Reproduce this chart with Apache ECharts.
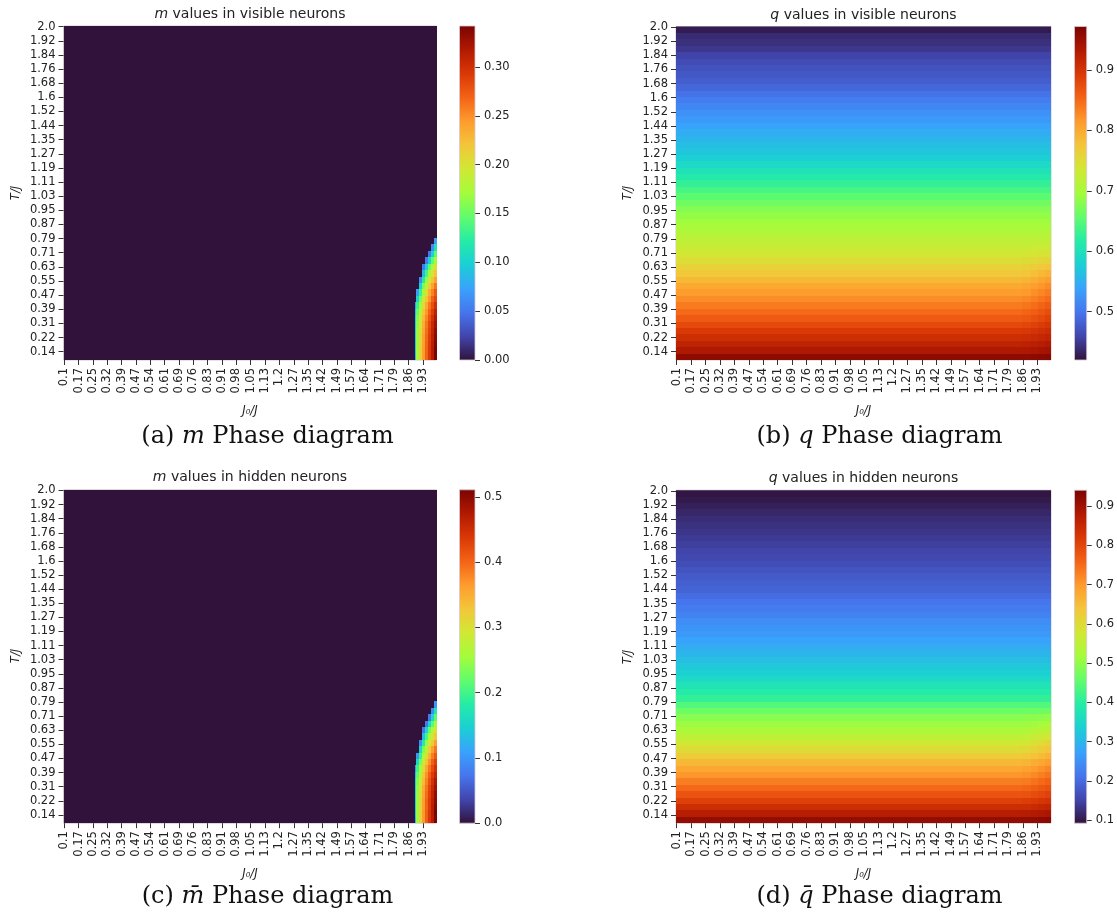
<!DOCTYPE html>
<html><head><meta charset="utf-8">
<script src="https://cdn.jsdelivr.net/npm/echarts@6/dist/echarts.min.js"></script>
<style>html,body{margin:0;padding:0;background:#fff}#c{width:1117px;height:918px}</style>
</head><body><div id="c"></div>
<script>
// ---------------- data ----------------
const xTickLabels = ['0.1','0.17','0.25','0.32','0.39','0.47','0.54','0.61','0.69','0.76','0.83','0.91','0.98','1.05','1.13','1.2','1.27','1.35','1.42','1.49','1.57','1.64','1.71','1.79','1.86','1.93'];
const yTickLabels = ['2.0','1.92','1.84','1.76','1.68','1.6','1.52','1.44','1.35','1.27','1.19','1.11','1.03','0.95','0.87','0.79','0.71','0.63','0.55','0.47','0.39','0.31','0.22','0.14'];
const gridCells = 260;          // cells per axis of the seaborn heatmap
const xTickStep = 10;           // a label every 10 cells
const yTickStep = 11;           // a label every 11 cells

// q profiles: one value per block of 5 rows (top row = T/J 2.0)
const qVisibleProfile = [0.428,0.439,0.443,0.449,0.458,0.465,0.471,0.475,0.480,0.487,
 0.496,0.506,0.515,0.523,0.531,0.539,0.547,0.555,0.563,0.571,
 0.578,0.591,0.602,0.613,0.627,0.640,0.653,0.665,0.677,0.686,
 0.694,0.703,0.711,0.720,0.729,0.737,0.748,0.761,0.773,0.787,
 0.801,0.812,0.824,0.837,0.849,0.862,0.877,0.892,0.905,0.920,
 0.933,0.958];
const qHiddenProfile = [0.096,0.102,0.109,0.117,0.124,0.129,0.134,0.140,0.145,0.151,
 0.158,0.164,0.171,0.179,0.187,0.192,0.202,0.213,0.221,0.232,
 0.245,0.255,0.262,0.275,0.289,0.300,0.313,0.325,0.338,0.355,
 0.376,0.393,0.410,0.440,0.466,0.491,0.508,0.529,0.550,0.576,
 0.601,0.627,0.657,0.682,0.703,0.729,0.754,0.780,0.809,0.839,
 0.873,0.915];
// bottom-right corner of q maps: row blocks 34..51, four column blocks
const qCornerFirstBlock = 34;
const qCornerCols = [[240,245],[246,250],[251,255],[256,259]];
const qVisibleCorner = [
 [0.729,0.738,0.749,0.763,0.776,0.791,0.805,0.816,0.828,0.841,0.853,0.865,0.880,0.894,0.907,0.922,0.934,0.959],
 [0.730,0.739,0.752,0.767,0.781,0.797,0.811,0.822,0.834,0.847,0.859,0.871,0.885,0.899,0.911,0.925,0.937,0.960],
 [0.730,0.741,0.756,0.772,0.787,0.804,0.818,0.829,0.841,0.854,0.866,0.877,0.890,0.903,0.915,0.928,0.940,0.961],
 [0.731,0.743,0.759,0.777,0.793,0.811,0.825,0.836,0.848,0.861,0.873,0.884,0.896,0.908,0.919,0.932,0.943,0.963]];
const qHiddenCorner = [
 [0.466,0.492,0.510,0.532,0.554,0.581,0.606,0.632,0.662,0.687,0.708,0.733,0.758,0.783,0.812,0.841,0.875,0.916],
 [0.466,0.494,0.514,0.538,0.562,0.591,0.616,0.642,0.672,0.697,0.718,0.742,0.766,0.790,0.818,0.846,0.879,0.918],
 [0.467,0.496,0.518,0.545,0.571,0.601,0.626,0.652,0.682,0.707,0.728,0.751,0.774,0.797,0.824,0.851,0.883,0.920],
 [0.468,0.499,0.523,0.552,0.580,0.612,0.637,0.663,0.693,0.718,0.739,0.761,0.783,0.805,0.831,0.857,0.888,0.923]];

// m maps: zero everywhere except the ferromagnetic crescent (rows 160..259 in blocks of 5)
const mFirstRow = 160;
const mCols = [[245,245],[246,247],[248,249],[250,251],[252,253],[254,255],[256,257],[258,259]];
const mVisible = [
 [0,0,0,0,0,0,0,0],
 [0,0,0,0,0,0,0,0.07],
 [0,0,0,0,0,0,0.06,0.11],
 [0,0,0,0,0,0.05,0.10,0.145],
 [0,0,0,0,0.05,0.10,0.145,0.17],
 [0,0,0,0.05,0.10,0.145,0.18,0.20],
 [0,0,0,0.085,0.135,0.17,0.20,0.22],
 [0,0,0.06,0.12,0.165,0.195,0.22,0.24],
 [0,0,0.10,0.155,0.19,0.215,0.24,0.26],
 [0,0.07,0.13,0.17,0.205,0.235,0.255,0.275],
 [0,0.10,0.155,0.19,0.22,0.245,0.27,0.285],
 [0.07,0.13,0.17,0.205,0.235,0.26,0.28,0.30],
 [0.09,0.145,0.185,0.22,0.245,0.27,0.29,0.31],
 [0.10,0.155,0.195,0.226,0.253,0.277,0.298,0.318],
 [0.10,0.16,0.20,0.233,0.26,0.284,0.305,0.325],
 [0.10,0.165,0.205,0.236,0.263,0.287,0.308,0.332],
 [0.10,0.165,0.208,0.24,0.266,0.29,0.311,0.335],
 [0.10,0.167,0.21,0.24,0.268,0.292,0.314,0.338],
 [0.095,0.168,0.211,0.242,0.269,0.293,0.315,0.342],
 [0.085,0.168,0.212,0.243,0.27,0.294,0.315,0.342]];
const mHidden = [
 [0,0,0,0,0,0,0,0],
 [0,0,0,0,0,0,0,0.10],
 [0,0,0,0,0,0,0.09,0.17],
 [0,0,0,0,0,0.075,0.155,0.215],
 [0,0,0,0,0.075,0.155,0.215,0.255],
 [0,0,0,0.075,0.155,0.22,0.265,0.295],
 [0,0,0,0.13,0.205,0.255,0.295,0.325],
 [0,0,0.09,0.18,0.245,0.29,0.325,0.36],
 [0,0,0.155,0.23,0.28,0.32,0.36,0.39],
 [0,0.10,0.195,0.255,0.305,0.345,0.385,0.41],
 [0,0.155,0.23,0.285,0.33,0.37,0.405,0.43],
 [0.10,0.195,0.255,0.305,0.355,0.39,0.42,0.445],
 [0.135,0.215,0.275,0.325,0.37,0.405,0.435,0.46],
 [0.155,0.23,0.29,0.335,0.38,0.415,0.445,0.475],
 [0.155,0.24,0.30,0.35,0.39,0.425,0.455,0.485],
 [0.155,0.245,0.305,0.355,0.395,0.43,0.46,0.495],
 [0.155,0.245,0.31,0.36,0.40,0.435,0.465,0.50],
 [0.155,0.25,0.31,0.36,0.40,0.435,0.47,0.505],
 [0.145,0.25,0.315,0.365,0.405,0.44,0.47,0.511],
 [0.13,0.25,0.315,0.365,0.405,0.44,0.47,0.511]];

const valueRanges = [[0,0.342],[0.420,0.972],[0,0.511],[0.092,0.941]];
const colorbarTicks = [[0,0.05,0.10,0.15,0.20,0.25,0.30],[0.5,0.6,0.7,0.8,0.9],[0,0.1,0.2,0.3,0.4,0.5],[0.1,0.2,0.3,0.4,0.5,0.6,0.7,0.8,0.9]];
const colorbarDecimals = [2,1,1,1];
const titles = ['{i|m} values in visible neurons','{i|q} values in visible neurons','{i|m} values in hidden neurons','{i|q} values in hidden neurons'];
const captions = ['(a) {i|m} Phase diagram','(b) {i|q} Phase diagram','(c) {i|m\u0304} Phase diagram','(d) {i|q\u0304} Phase diagram'];

// ---------------- styling / layout ----------------
const turbo = ["#30123b","#4145ab","#4675ed","#39a2fc","#1bcfd4","#24eca6","#61fc6c","#a4fc3b","#d1e834","#f3c63a","#fe9b2d","#f36315","#d93806","#b11901","#7a0402"];
const layout = [
 {plot:{left:63.5,top:26,width:373,height:334}, cb:{left:459.5,top:26,width:15.5,height:334}, title:[250,14.5], ylab:[16,193], xlab:[250,411], cap:[267.5,437]},
 {plot:{left:676,top:26.5,width:375,height:333.5}, cb:{left:1074.5,top:26.5,width:15.3,height:333.5}, title:[863.5,15], ylab:[628,193], xlab:[863.5,411], cap:[879.5,437]},
 {plot:{left:63.5,top:489.8,width:373,height:333.4}, cb:{left:459.5,top:489.8,width:15.5,height:333.4}, title:[250,477], ylab:[16,656], xlab:[250,874], cap:[267.5,897]},
 {plot:{left:676,top:490.2,width:375,height:333}, cb:{left:1074.5,top:490.2,width:15.3,height:333}, title:[863.5,478], ylab:[628,657], xlab:[863.5,874], cap:[879.5,897]}
];
const FONT = 'DejaVu Sans';
const TXT = '#222';

// ---------------- build cell tables ----------------
function qCells(profile, corner){
  const out = [];
  profile.forEach((q,b)=>out.push([0,gridCells-1,5*b,5*b+4,q]));
  corner.forEach((col,ci)=>col.forEach((q,k)=>{
    const b = qCornerFirstBlock + k;
    out.push([qCornerCols[ci][0], qCornerCols[ci][1], 5*b, 5*b+4, q]);
  }));
  return out;
}
function mCells(table){
  const out = [[0,gridCells-1,0,gridCells-1,0]];
  table.forEach((row,ri)=>row.forEach((v,ci)=>{
    if (v > 0) out.push([mCols[ci][0], mCols[ci][1], mFirstRow+5*ri, mFirstRow+5*ri+4, v]);
  }));
  return out;
}
const cellTables = [mCells(mVisible), qCells(qVisibleProfile,qVisibleCorner), mCells(mHidden), qCells(qHiddenProfile,qHiddenCorner)];

const cats = Array.from({length:gridCells},(_,i)=>String(i));

function cellRender(params, api){
  const a = api.coord([api.value(0), api.value(2)]);
  const b = api.coord([api.value(1), api.value(3)]);
  const s = api.size([1,1]);
  const x0 = Math.round(Math.min(a[0],b[0]) - s[0]/2), y0 = Math.round(Math.min(a[1],b[1]) - s[1]/2);
  const x1 = Math.round(Math.max(a[0],b[0]) + s[0]/2), y1 = Math.round(Math.max(a[1],b[1]) + s[1]/2);
  const c = api.visual('color');
  return {type:'rect', shape:{x:x0,y:y0,width:x1-x0,height:y1-y0}, style:{fill:c}};
}
function cbRender(params, api){
  const top = api.coord([0, api.value(2)]);
  const bot = api.coord([0, api.value(1)]);
  const w = api.size([1,0])[0];
  const stops = turbo.map((c,i)=>({offset:i/(turbo.length-1), color:c})).reverse().map((s,i)=>({offset:i/(turbo.length-1), color:s.color}));
  return {type:'rect', shape:{x:top[0]-w/2, y:top[1], width:w, height:bot[1]-top[1]},
    style:{fill:new echarts.graphic.LinearGradient(0,0,0,1,stops), stroke:'#d6c9d2', lineWidth:0.8}};
}

const grid=[], xAxis=[], yAxis=[], series=[], visualMap=[], graphic=[];
layout.forEach((L,i)=>{
  grid.push(Object.assign({show:true, borderColor:'#d4c6cf', borderWidth:1, backgroundColor:'transparent', containLabel:false}, L.plot));
  xAxis.push({gridIndex:i, type:'category', data:cats, boundaryGap:true,
    axisLine:{show:false}, splitLine:{show:false},
    axisTick:{show:true, interval:xTickStep-1, alignWithLabel:true, length:5, lineStyle:{color:'#333',width:1}},
    axisLabel:{interval:xTickStep-1, rotate:90, fontSize:11.5, fontFamily:FONT, color:TXT, margin:8,
      formatter:(v,idx)=> idx%xTickStep===0 ? xTickLabels[idx/xTickStep] : ''}});
  yAxis.push({gridIndex:i, type:'category', data:cats, inverse:true, boundaryGap:true,
    axisLine:{show:false}, splitLine:{show:false},
    axisTick:{show:true, interval:yTickStep-1, alignWithLabel:true, length:5, lineStyle:{color:'#333',width:1}},
    axisLabel:{interval:yTickStep-1, fontSize:11.5, fontFamily:FONT, color:TXT, margin:8,
      formatter:(v,idx)=> idx%yTickStep===0 ? yTickLabels[idx/yTickStep] : ''}});
  series.push({type:'custom', xAxisIndex:i, yAxisIndex:i, data:cellTables[i], encode:{x:[0,1], y:[2,3]},
    renderItem:cellRender, silent:true, animation:false, clip:true});
  visualMap.push({type:'continuous', show:false, seriesIndex:i, dimension:4,
    min:valueRanges[i][0], max:valueRanges[i][1], inRange:{color:turbo}});
});
layout.forEach((L,i)=>{
  const gi = 4+i;
  grid.push(Object.assign({show:false, containLabel:false}, L.cb));
  xAxis.push({gridIndex:gi, type:'category', data:[''], show:false});
  yAxis.push({gridIndex:gi, type:'value', position:'right', min:valueRanges[i][0], max:valueRanges[i][1],
    axisLine:{show:false}, splitLine:{show:false},
    axisTick:{show:true, length:5, lineStyle:{color:'#333',width:1}, customValues:colorbarTicks[i]},
    axisLabel:{show:true, fontSize:11.5, fontFamily:FONT, color:TXT, margin:9, customValues:colorbarTicks[i],
      formatter:(v)=> Number(v).toFixed(colorbarDecimals[i])}});
  series.push({type:'custom', xAxisIndex:gi, yAxisIndex:gi, data:[[0,valueRanges[i][0],valueRanges[i][1]]],
    encode:{x:0, y:[1,2]}, renderItem:cbRender, silent:true, animation:false});

  graphic.push({type:'text', x:L.title[0], y:L.title[1], style:{text:titles[i], fill:TXT, fontSize:14, fontFamily:FONT,
    align:'center', verticalAlign:'middle', rich:{i:{fontStyle:'italic', fontSize:14, fontFamily:FONT, fill:TXT}}}});
  graphic.push({type:'text', x:L.ylab[0], y:L.ylab[1], rotation:Math.PI/2, style:{text:'T/J', fill:TXT, fontSize:11.5,
    fontStyle:'italic', fontFamily:FONT, align:'center', verticalAlign:'middle'}});
  graphic.push({type:'text', x:L.xlab[0], y:L.xlab[1], style:{text:'J\u2080/J', fill:TXT, fontSize:11.5,
    fontStyle:'italic', fontFamily:FONT, align:'center', verticalAlign:'middle'}});
  graphic.push({type:'text', x:L.cap[0], y:L.cap[1], style:{text:captions[i], fill:'#111', fontSize:24, fontFamily:'DejaVu Serif',
    align:'center', verticalAlign:'middle', rich:{i:{fontStyle:'italic', fontSize:24, fontFamily:'DejaVu Serif', fill:'#111'}}}});
});

const chart = echarts.init(document.getElementById('c'), null, {renderer:'canvas'});
chart.setOption({animation:false, backgroundColor:'#fff', grid, xAxis, yAxis, series, visualMap, graphic});
</script>
</body></html>
